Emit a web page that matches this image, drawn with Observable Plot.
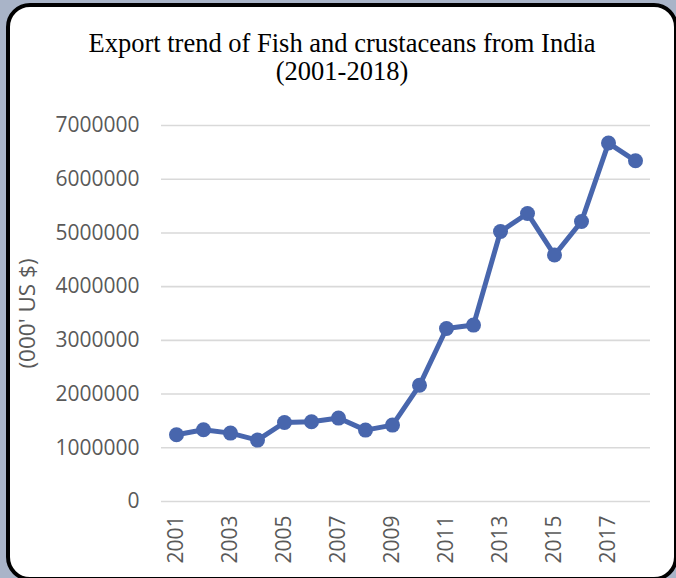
<!DOCTYPE html>
<html>
<head>
<meta charset="utf-8">
<script src="https://cdn.jsdelivr.net/npm/d3@7"></script>
<script src="https://cdn.jsdelivr.net/npm/@observablehq/plot@0.6"></script>
<style>
  html, body { margin: 0; padding: 0; }
  body { width: 676px; height: 578px; overflow: hidden; background: #a9b4c8; position: relative; }
  #box { position: absolute; left: 6px; top: 3px; width: 672px; height: 578px; box-sizing: border-box;
         border: 4px solid #000; border-radius: 24px; background: #fff; }
  #title { position: absolute; left: 6px; width: 672px; top: 29px; text-align: center;
           font-family: "Liberation Serif", "Times New Roman", serif; font-size: 26.5px; line-height: 28px; color: #000; }
  #chart { position: absolute; left: 0; top: 0; }
  #chart g[aria-label="y-axis label"] text { font-size: 22.5px; }
</style>
</head>
<body>
<div id="box"></div>
<div id="title">Export trend of Fish and crustaceans from India<br>(2001-2018)</div>
<div id="chart"></div>
<script>
const years = ["2001","2002","2003","2004","2005","2006","2007","2008","2009","2010","2011","2012","2013","2014","2015","2016","2017","2018"];
const exports = [1242000,1335000,1273000,1143000,1471000,1484000,1553000,1329000,1422000,2163000,3221000,3284000,5027000,5362000,4588000,5213000,6673000,6343000];
const xTicks = ["2001","2003","2005","2007","2009","2011","2013","2015","2017"];
const yTicks = [0,1000000,2000000,3000000,4000000,5000000,6000000,7000000];
const yLabel = "(000' US $)";

const data = years.map((y, i) => ({year: y, value: exports[i]}));
const blue = "#4866ad";

const chart = Plot.plot({
  width: 676,
  height: 578,
  marginLeft: 161,
  marginRight: 26,
  marginTop: 125,
  marginBottom: 77,
  style: { fontFamily: "'Open Sans', sans-serif", fontSize: "21px", color: "#595959", background: "transparent" },
  x: { type: "point", domain: years, padding: 0.5 },
  y: { domain: [0, 7000000] },
  marks: [
    Plot.gridY(yTicks, { stroke: "#d9d9d9", strokeOpacity: 1, strokeWidth: 1.6 }),
    Plot.axisY(yTicks, { tickSize: 0, tickPadding: 22, tickFormat: d => String(d), label: yLabel, labelAnchor: "center", labelArrow: "none", labelOffset: 142, fill: "#595959" }),
    Plot.axisX(xTicks, { tickSize: 0, tickPadding: 14, tickRotate: -90, label: null, fill: "#595959" }),
    Plot.line(data, { x: "year", y: "value", stroke: blue, strokeWidth: 5, strokeLinejoin: "round" }),
    Plot.dot(data, { x: "year", y: "value", fill: blue, r: 7.5 })
  ]
});
document.getElementById("chart").appendChild(chart);
</script>
</body>
</html>
